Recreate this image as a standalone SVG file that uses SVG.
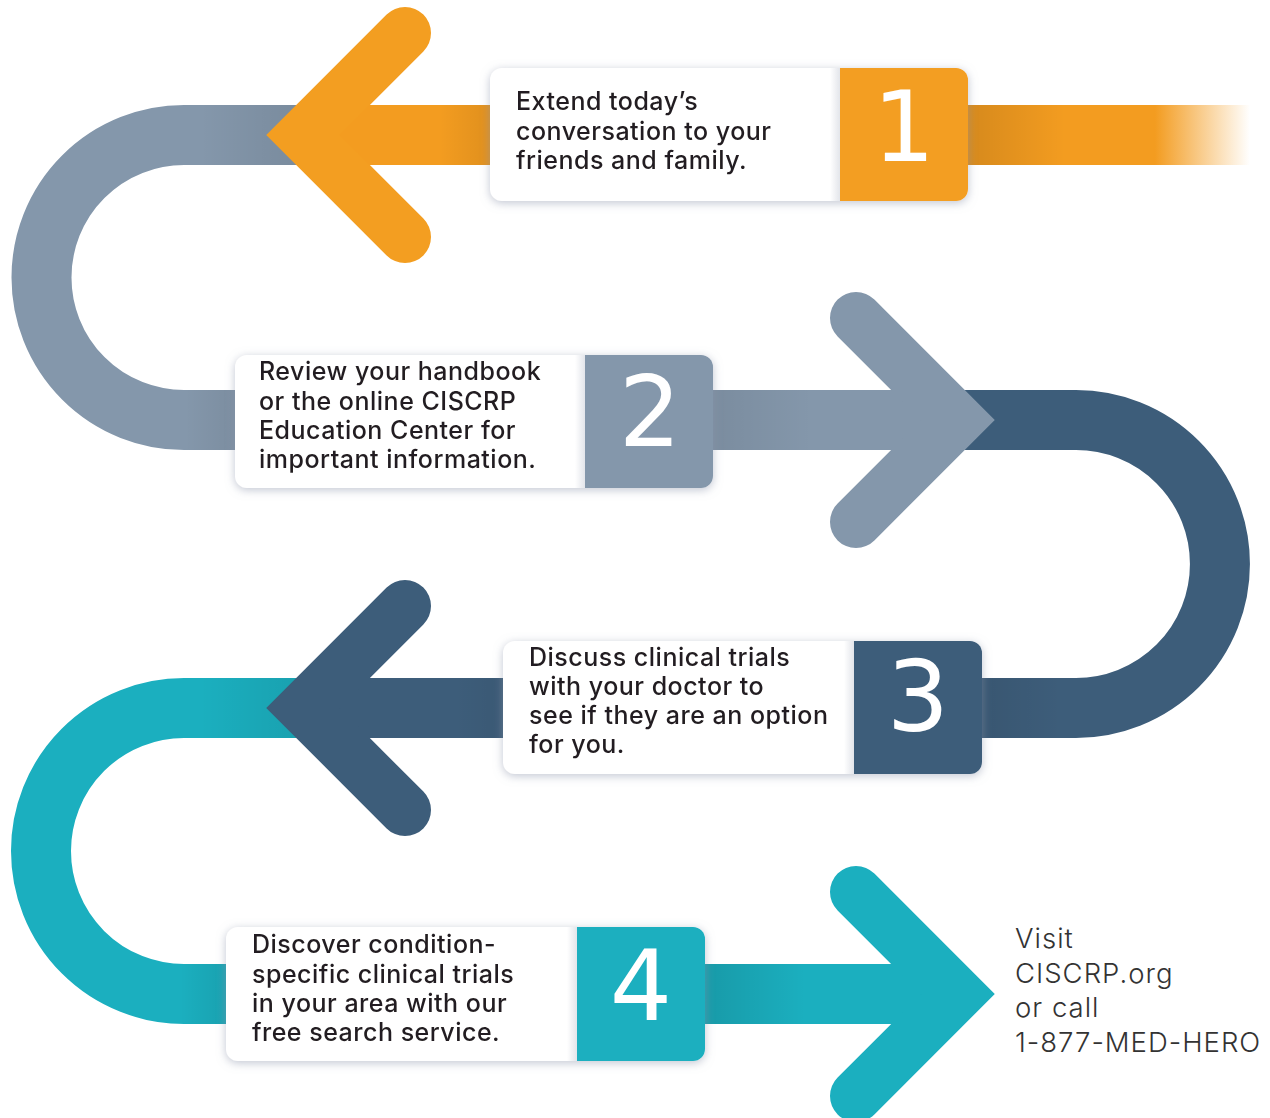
<svg xmlns="http://www.w3.org/2000/svg" width="1270" height="1118" viewBox="0 0 1270 1118">
<style>
.band{fill:none;stroke-width:60}
.chev{fill:none;stroke-width:52;stroke-linecap:round;stroke-linejoin:miter;stroke-miterlimit:10}
.txt{font-family:Inter,"Open Sans","Liberation Sans",sans-serif;font-size:25px;font-weight:500;fill:#231F20;letter-spacing:0.5px}
.num{font-family:"DejaVu Sans","Liberation Sans",sans-serif;font-size:98px;fill:#FFFFFF;text-anchor:middle}
.info{font-family:Inter,"Open Sans","Liberation Sans",sans-serif;font-size:27.5px;font-weight:300;fill:#333333;letter-spacing:1px}
</style>
<defs>
<filter id="sh" x="-10%" y="-30%" width="120%" height="160%">
<feDropShadow dx="0" dy="2" stdDeviation="5" flood-color="#8E97AC" flood-opacity="0.55"/>
</filter>
<linearGradient id="gOr" gradientUnits="userSpaceOnUse" x1="300" y1="0" x2="1250" y2="0">
<stop offset="0" stop-color="#F39C20"/>
<stop offset="0.9" stop-color="#F39C20"/>
<stop offset="1" stop-color="#F39C20" stop-opacity="0"/>
</linearGradient>
<linearGradient id="fadeR" x1="0" y1="0" x2="1" y2="0">
<stop offset="0" stop-color="#000" stop-opacity="0.12"/>
<stop offset="1" stop-color="#000" stop-opacity="0"/>
</linearGradient>
<linearGradient id="fadeL" x1="0" y1="0" x2="1" y2="0">
<stop offset="0" stop-color="#000" stop-opacity="0"/>
<stop offset="1" stop-color="#000" stop-opacity="0.08"/>
</linearGradient>
<linearGradient id="pnl" x1="0" y1="0" x2="1" y2="0">
<stop offset="0" stop-color="#8E97AC" stop-opacity="0"/>
<stop offset="1" stop-color="#8E97AC" stop-opacity="0.25"/>
</linearGradient>
</defs>
<rect width="1270" height="1118" fill="#FFFFFF"/>

<g id="connectors">
<path class="band" stroke="#8497AB" d="M300,135 H184 A142.5,142.5 0 0 0 184,420 H960"/>
<path class="band" stroke="#3D5D7A" d="M958,420 H1076 A144,144 0 0 1 1076,708 H300"/>
<path class="band" stroke="#1BAFBF" d="M300,708 H184 A143,143 0 0 0 184,994 H960"/>
<rect x="300" y="105" width="950" height="60" fill="url(#gOr)"/>
<rect x="200" y="105" width="100" height="60" fill="url(#fadeL)"/>
<rect x="200" y="678" width="100" height="60" fill="url(#fadeL)"/>
<rect x="968" y="105" width="97" height="60" fill="url(#fadeR)"/>
<rect x="440" y="105" width="50" height="60" fill="url(#fadeL)"/>
<rect x="713" y="390" width="100" height="60" fill="url(#fadeR)" opacity="0.6"/>
<rect x="185" y="390" width="50" height="60" fill="url(#fadeL)" opacity="0.8"/>
<rect x="982" y="678" width="80" height="60" fill="url(#fadeR)" opacity="0.6"/>
<rect x="455" y="678" width="48" height="60" fill="url(#fadeL)" opacity="0.6"/>
<rect x="705" y="964" width="100" height="60" fill="url(#fadeR)"/>
<rect x="180" y="964" width="47" height="60" fill="url(#fadeL)"/>
<polyline class="chev" stroke="#F39E21" points="405,33 303,135 405,237"/>
<polyline class="chev" stroke="#8497AB" points="856,318 958,420 856,522"/>
<polyline class="chev" stroke="#3D5D7A" points="405,606 303,708 405,810"/>
<polyline class="chev" stroke="#1BAFBF" points="856,892 958,994 856,1096"/>
</g>

<g id="step1" filter="url(#sh)">
<rect x="490" y="68" width="478" height="133" rx="12" fill="#FFFFFF"/>
<path d="M840,68 H956 A12,12 0 0 1 968,80 V189 A12,12 0 0 1 956,201 H840 Z" fill="#F39E21"/>
<rect x="830" y="68" width="10" height="133" fill="url(#pnl)"/>
<text class="txt" x="516" y="110">Extend today’s</text>
<text class="txt" x="516" y="139.5">conversation to your</text>
<text class="txt" x="516" y="168.5">friends and family.</text>
<text class="num" x="904" y="161">1</text>
</g>

<g id="step2" filter="url(#sh)">
<rect x="235" y="355" width="478" height="133" rx="12" fill="#FFFFFF"/>
<path d="M585,355 H701 A12,12 0 0 1 713,367 V476 A12,12 0 0 1 701,488 H585 Z" fill="#8497AB"/>
<rect x="575" y="355" width="10" height="133" fill="url(#pnl)"/>
<text class="txt" x="259" y="380">Review your handbook</text>
<text class="txt" x="259" y="409.5">or the online CISCRP</text>
<text class="txt" x="259" y="439">Education Center for</text>
<text class="txt" x="259" y="468">important information.</text>
<text class="num" x="650" y="446">2</text>
</g>

<g id="step3" filter="url(#sh)">
<rect x="503" y="641" width="479" height="133" rx="12" fill="#FFFFFF"/>
<path d="M854,641 H970 A12,12 0 0 1 982,653 V762 A12,12 0 0 1 970,774 H854 Z" fill="#3D5D7A"/>
<rect x="844" y="641" width="10" height="133" fill="url(#pnl)"/>
<text class="txt" x="529" y="666">Discuss clinical trials</text>
<text class="txt" x="529" y="695">with your doctor to</text>
<text class="txt" x="529" y="724">see if they are an option</text>
<text class="txt" x="529" y="753">for you.</text>
<text class="num" x="918" y="731">3</text>
</g>

<g id="step4" filter="url(#sh)">
<rect x="226" y="927" width="479" height="134" rx="12" fill="#FFFFFF"/>
<path d="M577,927 H693 A12,12 0 0 1 705,939 V1049 A12,12 0 0 1 693,1061 H577 Z" fill="#1BAFBF"/>
<rect x="567" y="927" width="10" height="134" fill="url(#pnl)"/>
<text class="txt" x="252" y="953">Discover condition-</text>
<text class="txt" x="252" y="983">specific clinical trials</text>
<text class="txt" x="252" y="1012">in your area with our</text>
<text class="txt" x="252" y="1041">free search service.</text>
<text class="num" x="641" y="1020">4</text>
</g>

<g id="contact">
<text class="info" x="1015" y="948">Visit</text>
<text class="info" x="1015" y="983">CISCRP.org</text>
<text class="info" x="1015" y="1017">or call</text>
<text class="info" x="1015" y="1052">1-877-MED-HERO</text>
</g>
</svg>
